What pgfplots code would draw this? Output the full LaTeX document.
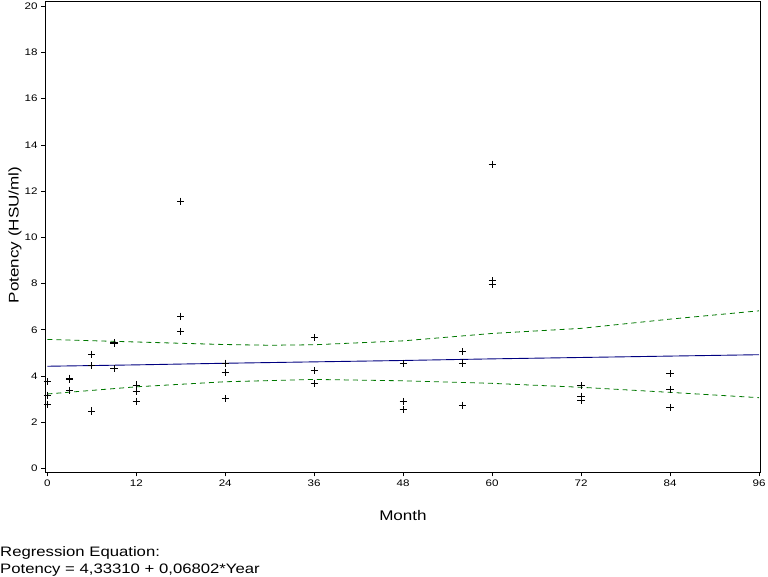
\documentclass[border=0pt]{standalone}
\usepackage{pgfplots}
\pgfplotsset{compat=1.18}
\usepackage{fontspec}
\setmainfont{Liberation Sans}[FakeStretch=1.22]
\definecolor{regblue}{RGB}{0,0,128}
\definecolor{bandgreen}{RGB}{0,120,0}
\begin{document}
\begin{tikzpicture}[x=1pt,y=1pt]
\useasboundingbox (0,0) rectangle (768,576);
\begin{axis}[
  at={(45pt,575pt)}, anchor=north west,
  scale only axis, width=715.7pt, height=471.3pt,
  xmin=-0.31, xmax=96.23, ymin=-0.17, ymax=20.23,
  xtick={0,12,24,36,48,60,72,84,96},
  ytick={0,2,4,6,8,10,12,14,16,18,20},
  tick align=outside, major tick length=4pt,
  xtick pos=bottom, ytick pos=left,
  tick label style={font=\fontsize{9.5}{10}\selectfont},
  /pgf/number format/assume math mode=true,
  axis line style={line width=0.9pt},
  tick style={line width=0.8pt, black},
  clip=false,
]
\addplot[only marks, mark=+, mark size=3.6pt, line width=0.9pt, black] coordinates {
(0,3.75) (0,3.17) (0,2.78)
(3,3.90) (3,3.86) (3,3.38)
(6,4.94) (6,4.44) (6,2.48)
(9,5.44) (9,5.40) (9,4.31)
(12,3.61) (12,3.32) (12,2.91)
(18,11.56) (18,6.59) (18,5.93)
(24,4.55) (24,4.16) (24,3.03)
(36,5.67) (36,4.24) (36,3.69)
(48,4.55) (48,2.90) (48,2.55)
(56,5.05) (56,4.56) (56,2.73)
(60,13.17) (60,8.12) (60,7.98)
(72,3.58) (72,3.12) (72,2.96)
(84,4.10) (84,3.40) (84,2.64)
};
\addplot[regblue, line width=0.9pt] coordinates {
(0,4.42) (12,4.48) (24,4.55) (36,4.61) (48,4.67) (60,4.74) (72,4.80) (84,4.86) (96,4.92)
};
\addplot[bandgreen, dash pattern=on 5pt off 4pt, line width=0.8pt] coordinates {
(0,5.58) (12,5.47) (24,5.36) (30,5.33) (36,5.35) (48,5.52) (60,5.84) (72,6.06) (84,6.46) (96,6.82)
};
\addplot[bandgreen, dash pattern=on 5pt off 4pt, line width=0.8pt] coordinates {
(0,3.22) (12,3.53) (24,3.75) (36,3.85) (48,3.79) (60,3.68) (72,3.51) (84,3.29) (96,3.06)
};
\end{axis}
\node[font=\fontsize{14}{16}\selectfont] at (403,61) {Month};
\node[font=\fontsize{14}{16}\selectfont, rotate=90] at (15,341) {Potency (HSU/ml)};
\node[font=\fontsize{13.7}{15}\selectfont, anchor=base west, inner sep=0pt] at (0,20) {Regression Equation:};
\node[font=\fontsize{13.7}{15}\selectfont, anchor=base west, inner sep=0pt] at (0,3) {Potency = 4,33310 + 0,06802*Year};
\end{tikzpicture}
\end{document}
